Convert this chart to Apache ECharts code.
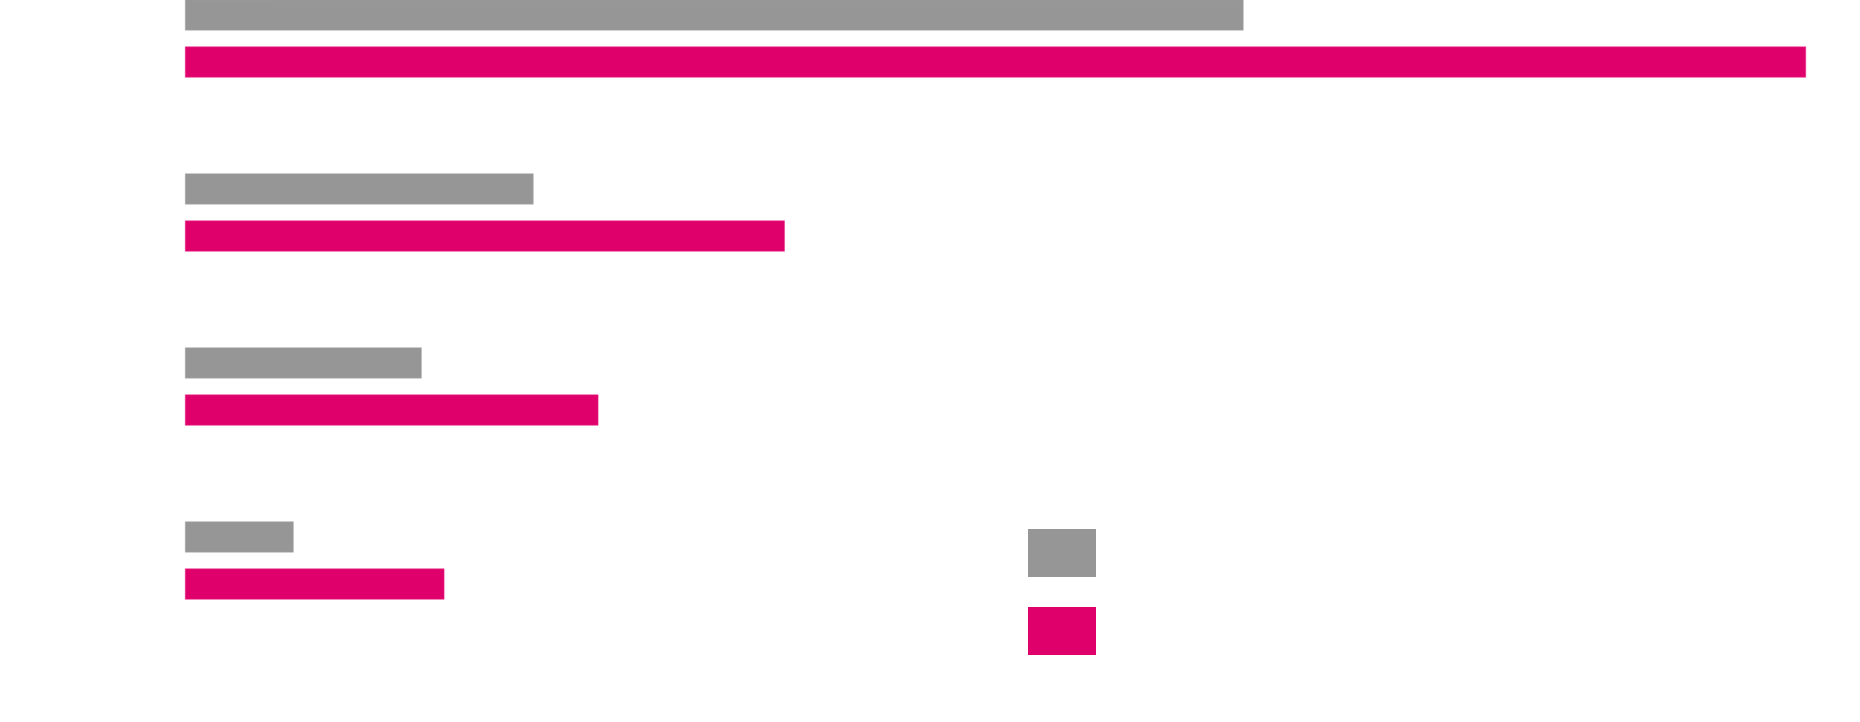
<!DOCTYPE html>
<html>
<head>
<meta charset="utf-8">
<script src="https://cdn.jsdelivr.net/npm/echarts@6/dist/echarts.min.js"></script>
<style>html,body{margin:0;padding:0;background:#fff}#c{width:1860px;height:722px}</style>
</head>
<body>
<div id="c"></div>
<script>
const categories = ['A', 'B', 'C', 'D'];
const seriesNames = ['Series 1', 'Series 2'];
const grayValues = [65.3, 21.5, 14.6, 6.7];
const pinkValues = [100, 37.0, 25.5, 16.0];

const chart = echarts.init(document.getElementById('c'));
chart.setOption({
  animation: false,
  backgroundColor: '#ffffff',
  grid: { left: 185, right: 54, top: 38.5, bottom: 161.5, containLabel: false },
  xAxis: {
    type: 'value', min: 0, max: 100,
    axisLine: { show: false }, axisTick: { show: false },
    axisLabel: { show: false }, splitLine: { show: false }
  },
  yAxis: {
    type: 'category', data: categories, inverse: true, boundaryGap: false,
    axisLine: { show: false }, axisTick: { show: false },
    axisLabel: { show: false }, splitLine: { show: false }
  },
  legend: {
    orient: 'vertical', left: 1028, top: 529, padding: 0,
    icon: 'rect',
    itemWidth: 68, itemHeight: 48, itemGap: 30,
    itemStyle: { borderWidth: 0 },
    formatter: () => '',
    data: seriesNames
  },
  series: [
    { name: seriesNames[0], type: 'bar', data: grayValues, barWidth: 31, barGap: '52%', clip: false,
      itemStyle: { color: '#969696', borderColor: '#a8a8a8', borderWidth: 0.5 } },
    { name: seriesNames[1], type: 'bar', data: pinkValues, barWidth: 31, clip: false,
      itemStyle: { color: '#e0006b', borderColor: '#e63388', borderWidth: 0.5 } }
  ]
});
</script>
</body>
</html>
